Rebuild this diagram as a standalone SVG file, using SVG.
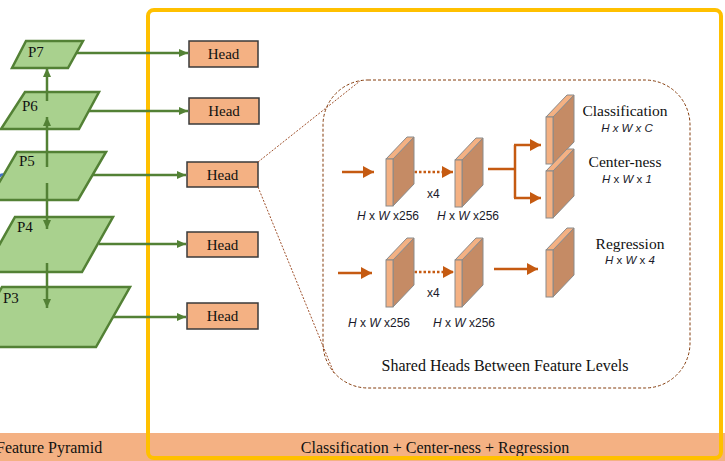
<svg xmlns="http://www.w3.org/2000/svg" width="725" height="461" viewBox="0 0 725 461">
<style>
.pyr{fill:#A9D18E;stroke:#538135;stroke-width:2.5;stroke-linejoin:miter}
.plab{font-family:"Liberation Serif","Times New Roman",serif;font-size:15px;fill:#111}
.head rect{fill:#F4B183;stroke:#3a3a3a;stroke-width:1.5}
.head text{font-family:"Liberation Serif","Times New Roman",serif;font-size:15px;fill:#111;text-anchor:middle}
.g{stroke:#538135;stroke-width:2.5;fill:none}
.o{stroke:#C55A11;stroke-width:2.5;fill:none}
.od{stroke:#C55A11;stroke-width:2.5;fill:none;stroke-dasharray:2.5,2}
.dim{font-family:"Liberation Sans",sans-serif;font-size:12px;fill:#1a1a2a}
.t15{font-family:"Liberation Serif","Times New Roman",serif;font-size:15px;fill:#111}
.tit{font-family:"Liberation Serif","Times New Roman",serif;font-size:15.5px;fill:#111;text-anchor:middle}
.sub{font-family:"Liberation Sans",sans-serif;font-size:11.5px;fill:#1a1a2a;text-anchor:middle}
.front{fill:#F4B183;stroke:#8a8a8a;stroke-width:1}
.side{fill:#C58B65;stroke:#8a8a8a;stroke-width:1}
.top{fill:#F4B183;stroke:#8a8a8a;stroke-width:1}
</style>
<defs>
<marker id="ga" markerUnits="userSpaceOnUse" markerWidth="10" markerHeight="8" refX="9" refY="4" orient="auto"><path d="M0,0 L9,4 L0,8 Z" fill="#538135"/></marker>
<marker id="oa" markerUnits="userSpaceOnUse" markerWidth="12" markerHeight="12" refX="11" refY="6" orient="auto"><path d="M0,0 L11,6 L0,12 Z" fill="#C55A11"/></marker>
<marker id="ba" markerUnits="userSpaceOnUse" markerWidth="8" markerHeight="8" refX="7" refY="4" orient="auto"><path d="M0,0 L7,4 L0,8 Z" fill="#4472C4"/></marker>
<g id="cube">
<polygon class="side" points="7,0 28,-22 28,25 7,47"/>
<polygon class="top" points="0,0 7,0 28,-22 21,-22"/>
<rect class="front" x="0" y="0" width="7" height="47"/>
</g>
</defs>
<rect width="725" height="461" fill="#fff"/>
<!-- bottom bar -->
<rect x="0" y="433" width="725" height="28" fill="#F4B183"/>
<text x="-4" y="453" class="t15" style="font-size:16px">Feature Pyramid</text>
<text x="435" y="453" class="tit" style="font-size:16px">Classification + Center-ness + Regression</text>
<!-- yellow frame -->
<rect x="148" y="10" width="573" height="448" rx="6" fill="none" stroke="#FFC000" stroke-width="4"/>
<!-- pyramid nodes -->
<g id="P3"><polygon class="pyr" points="2,287 130,287 96,347 -32,347"/><text class="plab" x="3" y="303">P3</text></g>
<g id="P4"><polygon class="pyr" points="15,217 113,217 82,272 -16,272"/><text class="plab" x="17" y="232">P4</text></g>
<g id="P5"><polygon class="pyr" points="17,152 106,152 78,200 -11,200"/><text class="plab" x="19" y="166">P5</text></g>
<g id="P6"><polygon class="pyr" points="25,92 99,92 79,129 1,129"/><text class="plab" x="22" y="111">P6</text></g>
<g id="P7"><polygon class="pyr" points="26,41 83,41 68,68 12,68"/><text class="plab" x="28" y="57">P7</text></g>
<!-- heads -->
<g id="head7" class="head"><rect x="189" y="41" width="69" height="26"/><text x="223.5" y="59">Head</text></g>
<g id="head6" class="head"><rect x="189" y="98" width="70" height="26"/><text x="224" y="116">Head</text></g>
<g id="head5" class="head"><rect x="187" y="162" width="71" height="25"/><text x="222.5" y="180">Head</text></g>
<g id="head4" class="head"><rect x="187" y="232" width="71" height="25"/><text x="222.5" y="250">Head</text></g>
<g id="head3" class="head"><rect x="187" y="303" width="71" height="26"/><text x="222.5" y="321">Head</text></g>
<!-- connectors -->
<g id="connectors">
<line class="g" x1="47" y1="101" x2="47" y2="68" marker-end="url(#ga)"/>
<line class="g" x1="47" y1="167" x2="47" y2="117" marker-end="url(#ga)"/>
<line class="g" x1="47" y1="183" x2="47" y2="229" marker-end="url(#ga)"/>
<line class="g" x1="47" y1="263" x2="47" y2="308" marker-end="url(#ga)"/>
<line class="g" x1="77" y1="53" x2="188" y2="53" marker-end="url(#ga)"/>
<line class="g" x1="88" y1="111" x2="188" y2="111" marker-end="url(#ga)"/>
<line class="g" x1="93" y1="175" x2="186" y2="175" marker-end="url(#ga)"/>
<line class="g" x1="99" y1="244" x2="186" y2="244" marker-end="url(#ga)"/>
<line class="g" x1="113" y1="317" x2="186" y2="317" marker-end="url(#ga)"/>
<line x1="-6" y1="178" x2="3" y2="174" stroke="#4472C4" stroke-width="2" marker-end="url(#ba)"/>
<!-- zoom lines -->
<line x1="258" y1="162" x2="360" y2="81" stroke="#A0522D" stroke-width="1" stroke-dasharray="2,1.5"/>
<line x1="258" y1="187" x2="334" y2="373" stroke="#A0522D" stroke-width="1" stroke-dasharray="2,1.5"/>
<!-- head internals -->
<line class="o" x1="342" y1="172" x2="374" y2="172" marker-end="url(#oa)"/>
<line class="od" x1="410" y1="172" x2="453" y2="172" marker-end="url(#oa)"/>
<polyline class="o" points="488,169 515,169"/>
<polyline class="o" points="515,145 515,198"/>
<line class="o" x1="514" y1="145" x2="541" y2="145" marker-end="url(#oa)"/>
<line class="o" x1="514" y1="198" x2="541" y2="198" marker-end="url(#oa)"/>
<line class="o" x1="338" y1="273" x2="372" y2="273" marker-end="url(#oa)"/>
<line class="od" x1="410" y1="272" x2="454" y2="272" marker-end="url(#oa)"/>
<line class="o" x1="494" y1="269" x2="538" y2="269" marker-end="url(#oa)"/>
</g>
<!-- shared heads panel -->
<g id="shared">
<rect x="323" y="80" width="367" height="308" rx="45" fill="none" stroke="#843C0C" stroke-width="1" stroke-dasharray="3,2"/>
<use href="#cube" x="386" y="159"/>
<use href="#cube" x="455" y="160"/>
<use href="#cube" x="546" y="117"/>
<use href="#cube" x="546" y="171"/>
<use href="#cube" x="386" y="260"/>
<use href="#cube" x="455" y="260"/>
<use href="#cube" x="546" y="250"/>
<text class="dim" x="427" y="198">x4</text>
<text class="dim" x="427" y="297">x4</text>
<text class="dim" x="357" y="220"><tspan font-style="italic">H</tspan> x <tspan font-style="italic">W</tspan> x256</text>
<text class="dim" x="437" y="220"><tspan font-style="italic">H</tspan> x <tspan font-style="italic">W</tspan> x256</text>
<text class="dim" x="348" y="327"><tspan font-style="italic">H</tspan> x <tspan font-style="italic">W</tspan> x256</text>
<text class="dim" x="433" y="327"><tspan font-style="italic">H</tspan> x <tspan font-style="italic">W</tspan> x256</text>
<text class="tit" x="625" y="116">Classification</text>
<text class="sub" x="627" y="132" font-style="italic">H x W x C</text>
<text class="tit" x="625" y="167">Center-ness</text>
<text class="sub" x="627" y="183"><tspan font-style="italic">H</tspan> x <tspan font-style="italic">W</tspan> x <tspan font-style="italic">1</tspan></text>
<text class="tit" x="630" y="249">Regression</text>
<text class="sub" x="630" y="264"><tspan font-style="italic">H</tspan> x <tspan font-style="italic">W</tspan> x <tspan font-style="italic">4</tspan></text>
<text class="tit" x="505" y="371" style="font-size:16px">Shared Heads Between Feature Levels</text>
</g>
</svg>
